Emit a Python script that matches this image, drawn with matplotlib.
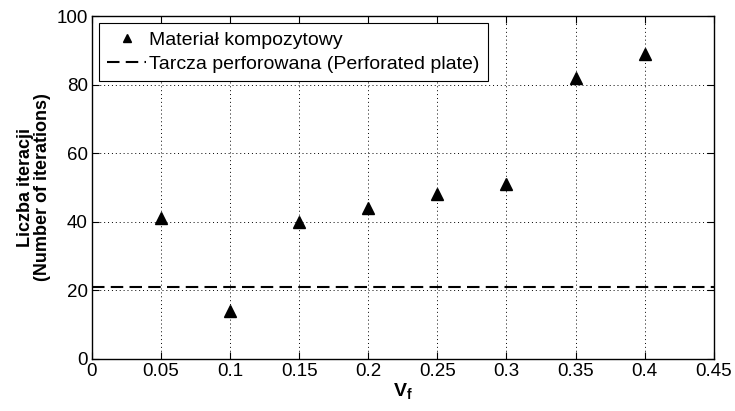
import matplotlib
matplotlib.use("Agg")
import matplotlib.pyplot as plt

plt.rcParams["font.family"] = ["Liberation Sans", "DejaVu Sans"]
plt.rcParams["mathtext.fontset"] = "custom"
plt.rcParams["mathtext.bf"] = "Liberation Sans:bold"
plt.rcParams["mathtext.rm"] = "Liberation Sans"

vf = [0.05, 0.1, 0.15, 0.2, 0.25, 0.3, 0.35, 0.4]
iterations = [41, 14, 40, 44, 48, 51, 82, 89]
plate_iterations = 21

xticks = [0, 0.05, 0.1, 0.15, 0.2, 0.25, 0.3, 0.35, 0.4, 0.45]
xticklabels = ["0", "0.05", "0.1", "0.15", "0.2", "0.25", "0.3", "0.35", "0.4", "0.45"]
yticks = [0, 20, 40, 60, 80, 100]

fig = plt.figure(figsize=(7.35, 4.11), dpi=100)
ax = fig.add_axes([0.125, 0.127, 0.846, 0.834])

ax.plot(vf, iterations, linestyle="none", marker="^", color="black",
        markersize=8, label="Materiał kompozytowy", zorder=3)
ax.axhline(plate_iterations, color="black", linestyle=(0, (6, 3)), lw=1.5,
           label="Tarcza perforowana (Perforated plate)", zorder=3)

ax.set_xlim(0, 0.45)
ax.set_ylim(0, 100)
ax.set_xticks(xticks)
ax.set_xticklabels(xticklabels)
ax.set_yticks(yticks)
ax.tick_params(direction="in", top=True, right=True, labelsize=13.5,
               length=5, width=0.8, colors="black", pad=3)
ax.grid(True, linestyle=(0, (1, 3)), color="black", lw=0.7)
for s in ax.spines.values():
    s.set_linewidth(1.0)

ax.set_xlabel(r"$\mathbf{V_f}$", fontsize=14, labelpad=1)
ax.set_ylabel("Liczba iteracji\n(Number of iterations)", fontsize=13,
              fontweight="bold", labelpad=4, linespacing=1.0)

leg = ax.legend(loc="upper left", fontsize=14, handlelength=2.0,
                handletextpad=0.15, borderaxespad=0.35, fancybox=False,
                framealpha=1, edgecolor="black", borderpad=0.45,
                labelspacing=0.3, markerscale=0.8)
leg.get_frame().set_linewidth(0.8)

fig.savefig("out.png", dpi=100)
